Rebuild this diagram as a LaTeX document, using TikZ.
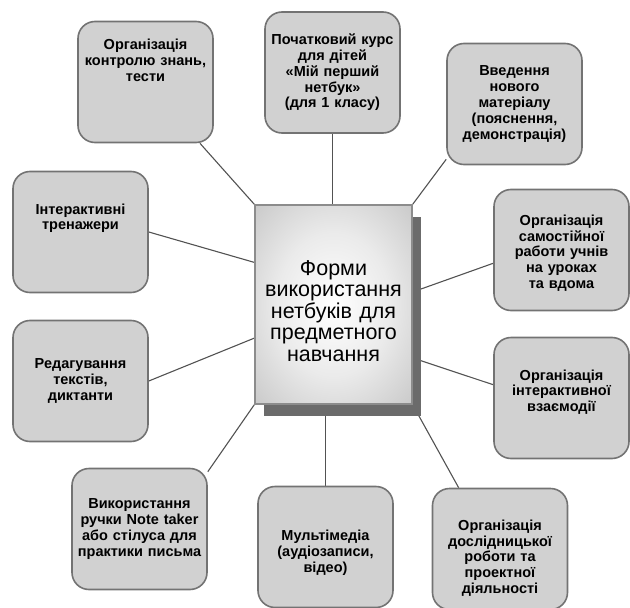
\documentclass[tikz,border=0pt]{standalone}
\usepackage{fontspec}
\setmainfont{Liberation Sans}
\usetikzlibrary{shadows,backgrounds}

\newcommand{\toptext}[2]{\parbox[c][#1][t]{130pt}{\centering #2}}
\newcommand{\movedown}[2]{\parbox{\hsize}{\centering\vspace*{#1}#2}}
\newcommand{\moveup}[2]{\parbox{\hsize}{\centering #2\par\vspace*{#1}}}
\pgfdeclareradialshading{coreshade}{\pgfpoint{0bp}{0bp}}{%
  color(0bp)=(white); color(18bp)=(black!8); color(45bp)=(black!28); color(72bp)=(black!38)}

\begin{document}
\begin{tikzpicture}[
  x=1pt, y=-1pt,
  form/.style={
    rectangle, draw=black!55, line width=1.6pt, rounded corners=17pt,
    fill=black!18, minimum width=135pt, minimum height=121pt,
    text width=130pt, align=center, inner sep=0pt,
    font=\fontsize{14.5}{15.8}\selectfont\bfseries
  },
  core/.style={
    rectangle, draw=black!45, line width=1.4pt, shading=coreshade,
    minimum width=157pt, minimum height=199pt,
    text width=152pt, align=center, inner sep=0pt,
    font=\fontsize{21.5}{21.6}\selectfont,
    general shadow={fill=black!58, shadow xshift=9pt, shadow yshift=-12pt}
  },
  link/.style={draw=black!68, line width=1.1pt}
]
\useasboundingbox (0,0) rectangle (630,608);

% Centre
\node[core] (forms) at (333.5,304.5) {\movedown{13pt}{Форми\\використання\\нетбуків для\\предметного\\навчання}};

% Top row
\node[form] (control) at (145.5,82) {\toptext{86pt}{Організація\\контролю знань,\\тести}};
\node[form] (course) at (332.5,72.5) {Початковий курс\\для дітей\\«Мій перший\\нетбук»\\(для 1 класу)};
\node[form] (newmat) at (514.5,104) {Введення\\нового\\матеріалу\\(пояснення,\\демонстрація)};

% Left column
\node[form] (trainers) at (80.5,232) {\toptext{57pt}{Інтерактивні\\тренажери}};
\node[form] (editing) at (80.5,381) {Редагування\\текстів,\\диктанти};

% Right column
\node[form] (selfwork) at (561.5,250) {\movedown{6pt}{Організація\\самостійної\\работи учнів\\на уроках\\та вдома}};
\node[form] (interact) at (561.5,398) {\moveup{12pt}{Організація\\інтерактивної\\взаємодії}};

% Bottom row
\node[form] (pen) at (139.5,529) {Використання\\ручки Note taker\\або стілуса для\\практики письма};
\node[form] (media) at (325.5,547) {\movedown{12pt}{Мультімедіа\\(аудіозаписи,\\відео)}};
\node[form] (research) at (500,549) {\movedown{18pt}{Організація\\дослідницької\\роботи та\\проектної\\діяльності}};

% Links
\begin{scope}[on background layer]
\draw[link] (control) -- (forms.north west);
\draw[link] (course) -- (course |- forms.north);
\draw[link] (newmat.219) -- (forms.north east);
\draw[link] (trainers.east) -- (forms.152);
\draw[link] (editing.east) -- (forms.203);
\draw[link] (selfwork.191) -- (forms.9);
\draw[link] (interact.169) -- (forms.326);
\draw[link] (pen.40) -- (forms.south west);
\draw[link] (media) -- (media |- forms.south);
\draw[link] (research.124) -- (forms.south east);
\end{scope}

\end{tikzpicture}
\end{document}
